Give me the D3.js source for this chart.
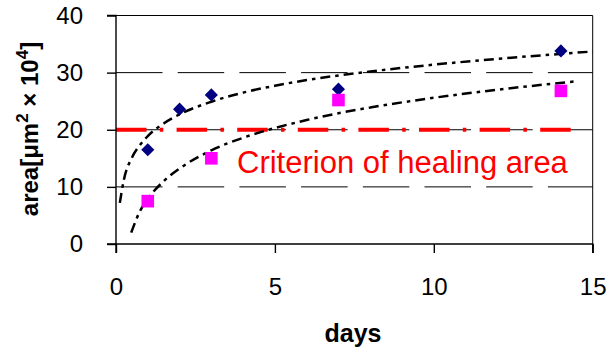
<!DOCTYPE html>
<html>
<head>
<meta charset="utf-8">
<script src="https://cdn.jsdelivr.net/npm/d3@7"></script>
<style>
  body { margin: 0; background: #fff; }
  svg { display: block; font-family: "Liberation Sans", Arial, sans-serif; }
</style>
</head>
<body>
<svg id="chart" width="608" height="353"></svg>
<script>
// measured values (days, area x10^4 um^2)
var daysA = [1, 2, 3, 7, 14];
var areaA = [16.5, 23.6, 26.1, 27.1, 33.8];
var daysB = [1, 3, 7, 14];
var areaB = [7.5, 15.0, 25.2, 26.8];

// trend curves
var trendAx = [0.12, 0.25, 0.5, 0.75, 1, 1.5, 2, 3, 4, 5, 6, 7, 8, 10, 12, 15];
var trendAy = [7.2, 11.3, 15.1, 17.3, 18.9, 21.1, 22.7, 24.9, 26.5, 27.7, 28.7, 29.5, 30.2, 31.4, 32.4, 33.7];
var trendBx = [0.48, 0.75, 1, 1.5, 2, 3, 4, 5, 6, 7, 8, 10, 12, 14.5];
var trendBy = [2.0, 5.7, 7.9, 11.0, 13.2, 16.4, 18.6, 20.3, 21.7, 22.9, 23.9, 25.6, 27.0, 28.5];

var criterion = 20;
var criterionSpan = [0, 14.7];
var criterionLabel = "Criterion of healing area";

var xTicks = [0, 5, 10, 15];
var yTicks = [0, 10, 20, 30, 40];

(function (){
	var svg = d3.select("#chart");
	var pl = 116, pr = 592.7, pt = 15.5, pb = 244;

	var x = d3.scaleLinear().domain([0, 15]).range([pl, pr]);
	var y = d3.scaleLinear().domain([0, 40]).range([pb, pt]);

	// gridlines
	svg.append("g").selectAll("line").data(yTicks.filter(function(d){ return d > 0 && d < 40; }))
		.enter().append("line")
		.attr("x1", pl).attr("x2", pr)
		.attr("y1", function(d){ return y(d); }).attr("y2", function(d){ return y(d); })
		.attr("stroke", "#000").attr("stroke-width", 1)
		.attr("stroke-dasharray", "46.5,15.2");

	// frame top / right
	svg.append("line").attr("x1", pl).attr("x2", pr).attr("y1", pt).attr("y2", pt)
		.attr("stroke", "#000").attr("stroke-width", 1);
	svg.append("line").attr("x1", pr).attr("x2", pr).attr("y1", pt).attr("y2", pb)
		.attr("stroke", "#000").attr("stroke-width", 1);

	// criterion line
	svg.append("line")
		.attr("x1", x(criterionSpan[0])).attr("x2", x(criterionSpan[1]))
		.attr("y1", y(criterion)).attr("y2", y(criterion))
		.attr("stroke", "#ff0000").attr("stroke-width", 4)
		.attr("stroke-dasharray", "30.5,13.3,3.5,13.3");

	svg.append("text")
		.attr("x", 237).attr("y", 173)
		.attr("fill", "#ff0000")
		.attr("font-size", 31)
		.text(criterionLabel);

	// trend lines
	var line = d3.line().x(function(d){ return x(d[0]); }).y(function(d){ return y(d[1]); })
		.curve(d3.curveMonotoneX);
	[[trendAx, trendAy], [trendBx, trendBy]].forEach(function(t){
		svg.append("path")
			.attr("d", line(d3.zip(t[0], t[1])))
			.attr("fill", "none")
			.attr("stroke", "#000")
			.attr("stroke-width", 2.5)
			.attr("stroke-dasharray", "10,5,3.5,5");
	});

	// axes
	var yAxis = d3.axisLeft(y).tickValues(yTicks).tickSize(9).tickPadding(24).tickFormat(d3.format("d"));
	var xAxis = d3.axisBottom(x).tickValues(xTicks).tickSize(9).tickPadding(25).tickFormat(d3.format("d"));

	var gy = svg.append("g").attr("transform", "translate(" + pl + ",0)").call(yAxis);
	var gx = svg.append("g").attr("transform", "translate(0," + pb + ")").call(xAxis);
	[gy, gx].forEach(function(g){
		g.select(".domain").attr("stroke", "#000").attr("stroke-width", 1.4);
		g.selectAll(".tick line").attr("stroke", "#000").attr("stroke-width", 1.4);
		g.selectAll(".tick text").attr("fill", "#000")
			.style("font-size", "24px").style("font-family", "'Liberation Sans', Arial, sans-serif");
	});
	gy.select(".domain").attr("d", "M-9," + pb + "H0V" + pt + "H-9");
	gx.select(".domain").attr("d", "M" + pl + ",9V0H" + pr + "V9");

	// markers
	svg.append("g").selectAll("path").data(d3.zip(daysA, areaA)).enter().append("path")
		.attr("d", d3.symbol().type(d3.symbolDiamond2).size(110))
		.attr("transform", function(d){ return "translate(" + x(d[0]) + "," + y(d[1]) + ")"; })
		.attr("fill", "#000080");

	svg.append("g").selectAll("rect").data(d3.zip(daysB, areaB)).enter().append("rect")
		.attr("x", function(d){ return x(d[0]) - 6.3; })
		.attr("y", function(d){ return y(d[1]) - 6.3; })
		.attr("width", 12.6).attr("height", 12.6)
		.attr("fill", "#ff00ff");

	// axis titles
	svg.append("text")
		.attr("x", 353).attr("y", 342)
		.attr("text-anchor", "middle")
		.attr("font-size", 25).attr("font-weight", "bold")
		.text("days");

	var yt = svg.append("text")
		.attr("transform", "translate(38,129) rotate(-90)")
		.attr("text-anchor", "middle")
		.attr("font-size", 24).attr("font-weight", "bold");
	yt.append("tspan").text("area[μm");
	yt.append("tspan").attr("font-size", 17).attr("dy", -10).text("2");
	yt.append("tspan").attr("dy", 10).text(" × 10");
	yt.append("tspan").attr("font-size", 17).attr("dy", -10).text("4");
	yt.append("tspan").attr("dy", 10).text("]");
}());
</script>
</body>
</html>
